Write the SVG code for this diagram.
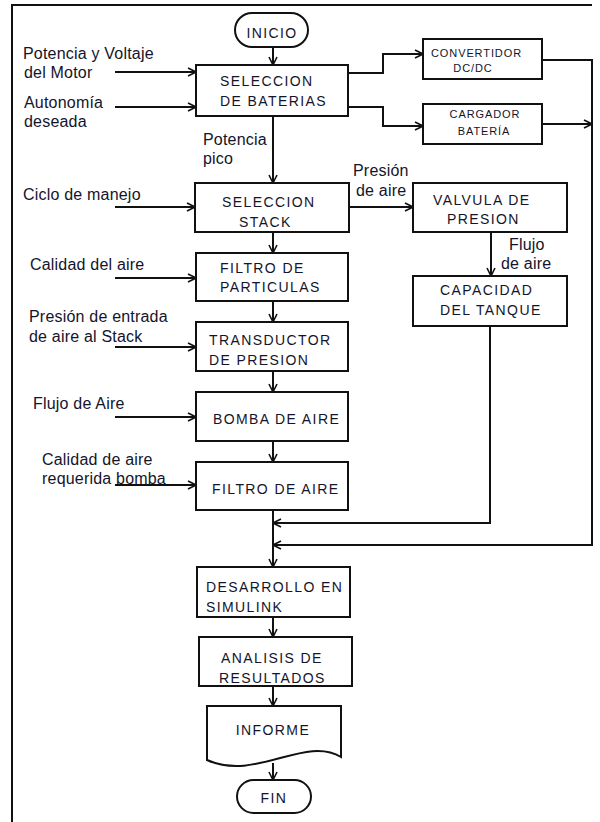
<svg xmlns="http://www.w3.org/2000/svg" width="600" height="822" viewBox="0 0 600 822">
<style>
.box{fill:#fff;stroke:#111;stroke-width:2}
.bt{font-family:"Liberation Sans",Arial,sans-serif;font-size:14px;letter-spacing:1.4px;fill:#14142a}
.sm{font-family:"Liberation Sans",Arial,sans-serif;font-size:11px;letter-spacing:0.9px;fill:#14142a}
.lb{font-family:"Liberation Sans",Arial,sans-serif;font-size:16px;letter-spacing:0.2px;fill:#14142a}
.c{fill:none;stroke:#111;stroke-width:2}
.mid{text-anchor:middle}
</style>
<defs>
<marker id="ah" markerWidth="10" markerHeight="10" refX="9" refY="5" orient="auto" markerUnits="userSpaceOnUse">
<path d="M1,1 L9,5 L1,9" fill="none" stroke="#111" stroke-width="1.6"/>
</marker>
</defs>
<path d="M12,822 V5 H592" fill="none" stroke="#111" stroke-width="2"/>

<g id="connectors">
<path class="c" d="M273,47 V65" marker-end="url(#ah)"/>
<path class="c" d="M115,72 H196" marker-end="url(#ah)"/>
<path class="c" d="M115,107 H196" marker-end="url(#ah)"/>
<path class="c" d="M273,116 V183" marker-end="url(#ah)"/>
<path class="c" d="M348,73 H383 V54 H423" marker-end="url(#ah)"/>
<path class="c" d="M348,107 H383 V126 H423" marker-end="url(#ah)"/>
<path class="c" d="M542,60 H592 V545 H273" marker-end="url(#ah)"/>
<path class="c" d="M542,124 H592" marker-end="url(#ah)"/>
<path class="c" d="M115,207 H195" marker-end="url(#ah)"/>
<path class="c" d="M349,207 H413" marker-end="url(#ah)"/>
<path class="c" d="M491,232 V276" marker-end="url(#ah)"/>
<path class="c" d="M490,326 V523 H273" marker-end="url(#ah)"/>
<path class="c" d="M273,232 V253" marker-end="url(#ah)"/>
<path class="c" d="M115,278 H196" marker-end="url(#ah)"/>
<path class="c" d="M273,301 V322" marker-end="url(#ah)"/>
<path class="c" d="M115,347 H196" marker-end="url(#ah)"/>
<path class="c" d="M273,371 V392" marker-end="url(#ah)"/>
<path class="c" d="M115,417 H196" marker-end="url(#ah)"/>
<path class="c" d="M273,441 V462" marker-end="url(#ah)"/>
<path class="c" d="M115,485 H196" marker-end="url(#ah)"/>
<path class="c" d="M273,510 V567" marker-end="url(#ah)"/>
<path class="c" d="M273,617 V637" marker-end="url(#ah)"/>
<path class="c" d="M273,686 V706" marker-end="url(#ah)"/>
<path class="c" d="M273,763 V780" marker-end="url(#ah)"/>
</g>

<g id="labels">
<text class="lb" x="23" y="59">Potencia y Voltaje</text>
<text class="lb" x="24" y="78">del Motor</text>
<text class="lb" x="24" y="108">Autonomía</text>
<text class="lb" x="24" y="127">deseada</text>
<text class="lb" x="203" y="145">Potencia</text>
<text class="lb" x="203" y="164">pico</text>
<text class="lb" x="23" y="200">Ciclo de manejo</text>
<text class="lb" x="30" y="270">Calidad del aire</text>
<text class="lb" x="29" y="322">Presión de entrada</text>
<text class="lb" x="29" y="342">de aire al Stack</text>
<text class="lb" x="33" y="409">Flujo de Aire</text>
<text class="lb" x="42" y="465">Calidad de aire</text>
<text class="lb" x="42" y="484">requerida bomba</text>
<text class="lb" x="353" y="176">Presión</text>
<text class="lb" x="356" y="196">de aire</text>
<text class="lb" x="509" y="250">Flujo</text>
<text class="lb" x="501" y="269">de aire</text>
</g>

<g id="inicio">
<rect class="box" x="235" y="13" width="73" height="34" rx="17"/>
<text class="bt mid" x="272" y="38">INICIO</text>
</g>
<g id="seleccion-baterias">
<rect class="box" x="196" y="65" width="152" height="51"/>
<text class="bt" x="220" y="86">SELECCION</text>
<text class="bt" x="220" y="106">DE BATERIAS</text>
</g>
<g id="convertidor">
<rect class="box" x="423" y="39" width="119" height="40"/>
<text class="sm" x="431" y="57">CONVERTIDOR</text>
<text class="sm mid" x="473" y="72">DC/DC</text>
</g>
<g id="cargador">
<rect class="box" x="423" y="104" width="119" height="40"/>
<text class="sm mid" x="485" y="118">CARGADOR</text>
<text class="sm mid" x="484" y="135">BATERÍA</text>
</g>
<g id="seleccion-stack">
<rect class="box" x="195" y="183" width="154" height="49"/>
<text class="bt" x="222" y="207">SELECCION</text>
<text class="bt" x="239" y="227">STACK</text>
</g>
<g id="valvula">
<rect class="box" x="413" y="183" width="154" height="49"/>
<text class="bt" x="433" y="205">VALVULA DE</text>
<text class="bt" x="447" y="224">PRESION</text>
</g>
<g id="capacidad">
<rect class="box" x="413" y="276" width="154" height="50"/>
<text class="bt" x="440" y="295">CAPACIDAD</text>
<text class="bt" x="440" y="315">DEL TANQUE</text>
</g>
<g id="filtro-particulas">
<rect class="box" x="196" y="253" width="152" height="48"/>
<text class="bt" x="220" y="273">FILTRO DE</text>
<text class="bt" x="220" y="292">PARTICULAS</text>
</g>
<g id="transductor">
<rect class="box" x="196" y="322" width="152" height="49"/>
<text class="bt" x="209" y="345">TRANSDUCTOR</text>
<text class="bt" x="209" y="365">DE PRESION</text>
</g>
<g id="bomba">
<rect class="box" x="196" y="392" width="152" height="49"/>
<text class="bt" x="213" y="424">BOMBA DE AIRE</text>
</g>
<g id="filtro-aire">
<rect class="box" x="196" y="462" width="152" height="48"/>
<text class="bt" x="212" y="494">FILTRO DE AIRE</text>
</g>
<g id="desarrollo">
<rect class="box" x="197" y="567" width="153" height="50"/>
<text class="bt" x="206" y="592">DESARROLLO EN</text>
<text class="bt" x="206" y="612">SIMULINK</text>
</g>
<g id="analisis">
<rect class="box" x="199" y="637" width="153" height="49"/>
<text class="bt" x="221" y="663">ANALISIS DE</text>
<text class="bt" x="219" y="683">RESULTADOS</text>
</g>
<g id="informe">
<path class="box" d="M207,706 H341 V757 C305,735 255,782 207,760 Z"/>
<text class="bt mid" x="273" y="735">INFORME</text>
</g>
<g id="fin">
<rect class="box" x="237" y="780" width="74" height="33" rx="16.5"/>
<text class="bt mid" x="274" y="803">FIN</text>
</g>
</svg>
